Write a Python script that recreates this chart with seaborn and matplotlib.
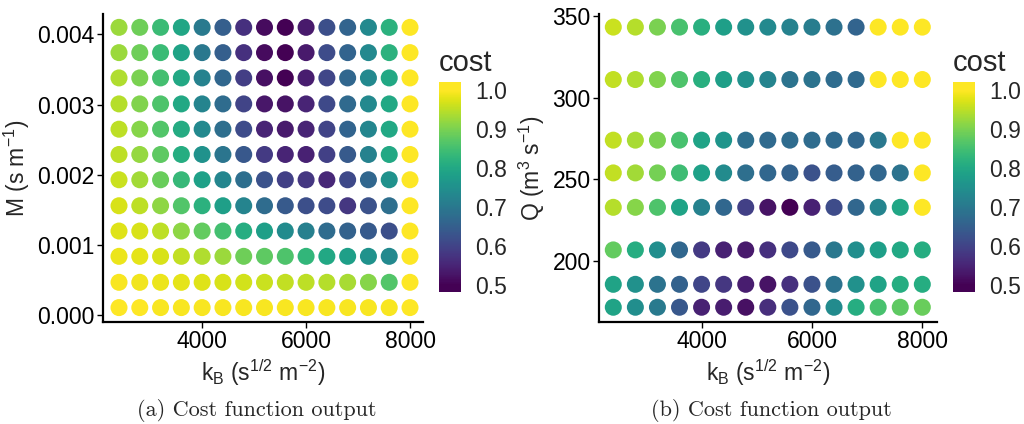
import numpy as np
import pandas as pd
import matplotlib
matplotlib.use("Agg")
import matplotlib.pyplot as plt
import matplotlib.ticker as mticker
import seaborn as sns

# ---------------- data ----------------
kB = [2400, 2800, 3200, 3600, 4000, 4400, 4800, 5200, 5600, 6000, 6400, 6800, 7200, 7600, 8000]

M = [0.00011, 0.00047, 0.00084, 0.00120, 0.00156, 0.00193,
     0.00229, 0.00265, 0.00301, 0.00338, 0.00374, 0.00410]

# rows listed from bottom (smallest M) to top (largest M)
cost_a = [
    [1.000, 1.000, 0.995, 0.995, 0.995, 0.995, 0.995, 0.995, 0.995, 0.995, 0.995, 0.995, 0.995, 0.995, 1.000],
    [0.995, 0.990, 0.985, 0.980, 0.975, 0.970, 0.965, 0.960, 0.955, 0.950, 0.945, 0.935, 0.910, 0.865, 1.000],
    [0.985, 0.980, 0.970, 0.955, 0.940, 0.925, 0.890, 0.875, 0.860, 0.830, 0.800, 0.780, 0.755, 0.735, 1.000],
    [0.975, 0.970, 0.950, 0.915, 0.880, 0.850, 0.810, 0.780, 0.740, 0.715, 0.675, 0.655, 0.640, 0.620, 1.000],
    [0.970, 0.950, 0.915, 0.865, 0.820, 0.780, 0.725, 0.675, 0.640, 0.620, 0.615, 0.580, 0.625, 0.680, 1.000],
    [0.960, 0.930, 0.885, 0.835, 0.785, 0.730, 0.680, 0.625, 0.595, 0.580, 0.555, 0.610, 0.665, 0.755, 1.000],
    [0.950, 0.920, 0.875, 0.810, 0.755, 0.695, 0.635, 0.585, 0.550, 0.545, 0.595, 0.640, 0.720, 0.800, 1.000],
    [0.950, 0.910, 0.865, 0.805, 0.735, 0.680, 0.615, 0.550, 0.535, 0.550, 0.600, 0.660, 0.730, 0.800, 1.000],
    [0.945, 0.905, 0.860, 0.800, 0.725, 0.675, 0.600, 0.530, 0.525, 0.550, 0.610, 0.670, 0.735, 0.800, 1.000],
    [0.940, 0.900, 0.850, 0.800, 0.720, 0.665, 0.590, 0.520, 0.500, 0.540, 0.605, 0.665, 0.735, 0.800, 1.000],
    [0.925, 0.890, 0.840, 0.790, 0.700, 0.650, 0.570, 0.515, 0.500, 0.535, 0.615, 0.660, 0.735, 0.820, 1.000],
    [0.925, 0.890, 0.840, 0.795, 0.705, 0.650, 0.570, 0.515, 0.500, 0.535, 0.620, 0.660, 0.735, 0.820, 1.000],
]

Q = [172, 186, 207, 233, 254, 274, 311, 343]

# rows listed from bottom (smallest Q) to top (largest Q)
cost_b = [
    [0.790, 0.745, 0.705, 0.635, 0.545, 0.540, 0.520, 0.565, 0.625, 0.665, 0.740, 0.810, 0.855, 0.875, 0.885],
    [0.790, 0.750, 0.690, 0.655, 0.605, 0.580, 0.540, 0.525, 0.570, 0.625, 0.690, 0.750, 0.790, 0.810, 0.810],
    [0.880, 0.810, 0.745, 0.665, 0.585, 0.545, 0.535, 0.570, 0.610, 0.640, 0.700, 0.745, 0.780, 0.800, 0.810],
    [0.945, 0.910, 0.860, 0.790, 0.720, 0.665, 0.595, 0.525, 0.500, 0.545, 0.615, 0.665, 0.725, 0.795, 1.000],
    [0.955, 0.930, 0.895, 0.845, 0.785, 0.740, 0.680, 0.665, 0.655, 0.625, 0.645, 0.655, 0.665, 0.690, 1.000],
    [0.955, 0.935, 0.900, 0.855, 0.790, 0.760, 0.680, 0.670, 0.675, 0.675, 0.670, 0.665, 0.700, 1.000, 1.000],
    [0.955, 0.940, 0.905, 0.860, 0.815, 0.780, 0.750, 0.725, 0.690, 0.690, 0.675, 0.670, 1.000, 1.000, 1.000],
    [0.960, 0.945, 0.900, 0.855, 0.815, 0.780, 0.750, 0.735, 0.720, 0.710, 0.685, 0.660, 1.000, 1.000, 1.000],
]

M_ticks = [0.000, 0.001, 0.002, 0.003, 0.004]
Q_ticks = [200, 250, 300, 350]
kB_ticks = [4000, 6000, 8000]
cbar_ticks = [0.5, 0.6, 0.7, 0.8, 0.9, 1.0]


def make_df(xs, ys, rows, yname):
    recs = []
    for yi, row in zip(ys, rows):
        for xi, c in zip(xs, row):
            recs.append({"kB": xi, yname: yi, "cost": c})
    return pd.DataFrame(recs)


df_a = make_df(kB, M, cost_a, "M")
df_b = make_df(kB, Q, cost_b, "Q")

# ---------------- style ----------------
sns.set_style("white")
plt.rcParams["font.family"] = ["Liberation Sans", "DejaVu Sans"]
plt.rcParams["mathtext.fontset"] = "custom"
plt.rcParams["mathtext.rm"] = "Liberation Sans"
plt.rcParams["mathtext.it"] = "Liberation Sans"
plt.rcParams["mathtext.bf"] = "Liberation Sans"
plt.rcParams["axes.unicode_minus"] = True

W, H = 1024, 424
fig = plt.figure(figsize=(W / 100, H / 100), dpi=100)


def px_axes(x0, y0, x1, y1):
    return fig.add_axes([x0 / W, 1 - y1 / H, (x1 - x0) / W, (y1 - y0) / H])


ax_a = px_axes(103, 14, 423, 322)
ax_b = px_axes(599, 14, 937, 322)
cax_a = px_axes(439, 82, 461, 292)
cax_b = px_axes(953, 82, 975, 292)

norm = plt.Normalize(0.5, 1.0)
cmap = plt.get_cmap("viridis")

for ax, df, yname in [(ax_a, df_a, "M"), (ax_b, df_b, "Q")]:
    sns.scatterplot(data=df, x="kB", y=yname, hue="cost", palette="viridis",
                    hue_norm=(0.5, 1.0), s=150, linewidth=0, legend=False, ax=ax)
    for side in ["top", "right"]:
        ax.spines[side].set_visible(False)
    for side in ["left", "bottom"]:
        ax.spines[side].set_color("black")
        ax.spines[side].set_linewidth(1.6)
    ax.tick_params(axis="both", which="major", direction="out", length=4, width=1,
                   color="black", labelsize=16.5, labelcolor="black", pad=2, left=True, bottom=True)
    ax.set_xticks(kB_ticks)
    ax.set_xlabel(r"k$_{\mathrm{B}}$ (s$^{1/2}$ m$^{-2}$)", fontsize=16.5, labelpad=3)

ax_a.set_xlim(2092, 8250)
ax_a.set_ylim(-0.000095, 0.00429)
ax_a.set_yticks(M_ticks)
ax_a.yaxis.set_major_formatter(mticker.FormatStrFormatter("%.3f"))
ax_a.set_ylabel(r"M (s m$^{-1}$)", fontsize=16.5, labelpad=4)

ax_b.set_xlim(2141, 8266)
ax_b.set_ylim(163, 351)
ax_b.set_yticks(Q_ticks)
ax_b.set_ylabel(r"Q (m$^{3}$ s$^{-1}$)", fontsize=16.5, labelpad=4)

# colorbars
bounds = np.linspace(0.482, 1.0205, 301)
vals = 0.5 * (bounds[:-1] + bounds[1:])
sm = plt.cm.ScalarMappable(norm=norm, cmap=cmap)
for cax in [cax_a, cax_b]:
    cb = fig.colorbar(sm, cax=cax, boundaries=bounds, values=np.clip(vals, 0.5, 1.0))
    cb.outline.set_visible(False)
    cb.set_ticks(cbar_ticks)
    cb.ax.yaxis.set_major_formatter(mticker.FormatStrFormatter("%.1f"))
    cax.tick_params(length=0, labelsize=16.5, pad=10)
    cax.set_title("cost", fontsize=21, loc="left", pad=8)

fig.text(257 / W, 1 - 410 / H, "(a) Cost function output", family="cmr10",
         fontsize=16, ha="center", va="center")
fig.text(771 / W, 1 - 410 / H, "(b) Cost function output", family="cmr10",
         fontsize=16, ha="center", va="center")

fig.savefig("out.png", dpi=100)
